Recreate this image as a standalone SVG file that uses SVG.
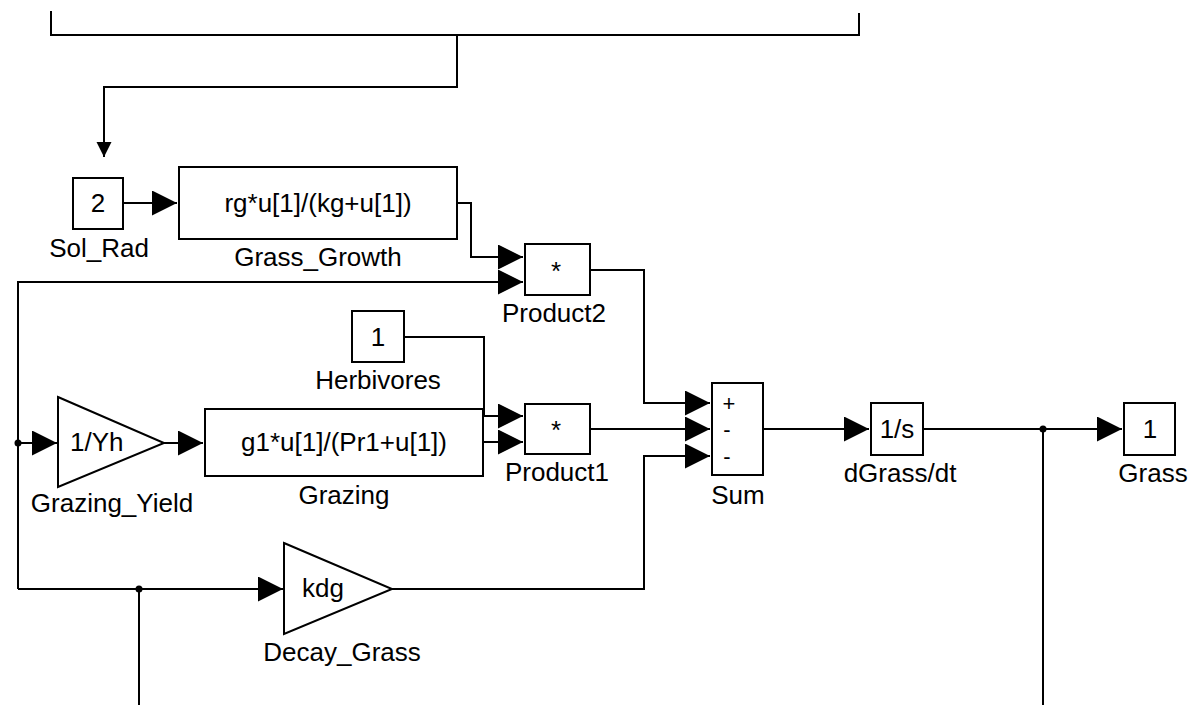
<svg xmlns="http://www.w3.org/2000/svg" width="1191" height="705" viewBox="0 0 1191 705">
<style>
  .blk { fill: #ffffff; stroke: #000000; stroke-width: 2; }
  .ln { fill: none; stroke: #000000; stroke-width: 2; }
  .arr { fill: none; stroke: #000000; stroke-width: 2; marker-end: url(#ah); }
  .arr2 { fill: none; stroke: #000000; stroke-width: 2; marker-end: url(#ahs); }
  text { font-family: "Liberation Sans", Arial, sans-serif; font-size: 26px; fill: #000000; }
  .c { text-anchor: middle; }
  .sg { font-size: 22px; }
  .dot { fill: #000000; }
</style>
<defs>
  <marker id="ah" markerUnits="userSpaceOnUse" markerWidth="26" markerHeight="26" refX="25" refY="12.5" orient="auto" viewBox="0 0 26 26">
    <path d="M0,0 L25,12.5 L0,25 Z" fill="#000000"/>
  </marker>
  <marker id="ahs" markerUnits="userSpaceOnUse" markerWidth="16" markerHeight="16" refX="15" refY="7.5" orient="auto" viewBox="0 0 16 16">
    <path d="M0,0 L15,7.5 L0,15 Z" fill="#000000"/>
  </marker>
</defs>
<rect width="1191" height="705" fill="#ffffff"/>

<g id="connectors">
  <polyline class="ln" points="51,11 51,35 859,35 859,13"/>
  <polyline class="arr2" points="457,35 457,87 104,87 104,157"/>
  <line class="arr" x1="123" y1="203" x2="177" y2="203"/>
  <polyline class="arr" points="457,203 471,203 471,257 523,257"/>
  <polyline class="arr" points="18,589 18,282 523,282"/>
  <polyline class="arr" points="590,270 644,270 644,403 710,403"/>
  <polyline class="arr" points="404,337 484,337 484,416 523,416"/>
  <line class="arr" x1="18" y1="443" x2="57" y2="443"/>
  <line class="arr" x1="164" y1="443" x2="203" y2="443"/>
  <line class="arr" x1="483" y1="442" x2="523" y2="442"/>
  <line class="arr" x1="590" y1="429" x2="710" y2="429"/>
  <line class="arr" x1="18" y1="589" x2="283" y2="589"/>
  <polyline class="arr" points="392,589 644,589 644,456 710,456"/>
  <line class="ln" x1="139" y1="589" x2="139" y2="705"/>
  <line class="arr" x1="763" y1="429" x2="869" y2="429"/>
  <line class="arr" x1="923" y1="429" x2="1122" y2="429"/>
  <line class="ln" x1="1043" y1="429" x2="1043" y2="705"/>
  <circle class="dot" cx="18" cy="443" r="3.5"/>
  <circle class="dot" cx="139" cy="589" r="3.5"/>
  <circle class="dot" cx="1043" cy="429" r="3.5"/>
</g>

<g id="Sol_Rad">
  <rect class="blk" x="73" y="178" width="50" height="51"/>
  <text class="c" x="98" y="212">2</text>
  <text class="c" x="99" y="257">Sol_Rad</text>
</g>

<g id="Grass_Growth">
  <rect class="blk" x="179" y="167" width="278" height="72"/>
  <text class="c" x="318" y="212">rg*u[1]/(kg+u[1])</text>
  <text class="c" x="318" y="266">Grass_Growth</text>
</g>

<g id="Product2">
  <rect class="blk" x="525" y="244" width="65" height="51"/>
  <text class="c" x="556" y="280">*</text>
  <text class="c" x="554" y="322">Product2</text>
</g>

<g id="Herbivores">
  <rect class="blk" x="352" y="311" width="52" height="51"/>
  <text class="c" x="378" y="346">1</text>
  <text class="c" x="378" y="389">Herbivores</text>
</g>

<g id="Grazing_Yield">
  <polygon class="blk" points="58,397 164,443 58,487"/>
  <text x="70" y="451">1/Yh</text>
  <text class="c" x="112" y="512">Grazing_Yield</text>
</g>

<g id="Grazing">
  <rect class="blk" x="205" y="409" width="278" height="67"/>
  <text class="c" x="344" y="451">g1*u[1]/(Pr1+u[1])</text>
  <text class="c" x="344" y="504">Grazing</text>
</g>

<g id="Product1">
  <rect class="blk" x="525" y="404" width="65" height="50"/>
  <text class="c" x="556" y="439">*</text>
  <text class="c" x="557" y="481">Product1</text>
</g>

<g id="Sum">
  <rect class="blk" x="712" y="383" width="51" height="92"/>
  <text class="c sg" x="729" y="411">+</text>
  <text class="c sg" x="727" y="437">-</text>
  <text class="c sg" x="727" y="464">-</text>
  <text class="c" x="738" y="504">Sum</text>
</g>

<g id="Decay_Grass">
  <polygon class="blk" points="284,543 392,589 284,634"/>
  <text x="302" y="597">kdg</text>
  <text class="c" x="342" y="661">Decay_Grass</text>
</g>

<g id="dGrass_dt">
  <rect class="blk" x="871" y="403" width="52" height="52"/>
  <text class="c" x="897" y="438">1/s</text>
  <text class="c" x="900" y="482">dGrass/dt</text>
</g>

<g id="Grass">
  <rect class="blk" x="1124" y="403" width="51" height="52"/>
  <text class="c" x="1150" y="438">1</text>
  <text class="c" x="1153" y="482">Grass</text>
</g>
</svg>
